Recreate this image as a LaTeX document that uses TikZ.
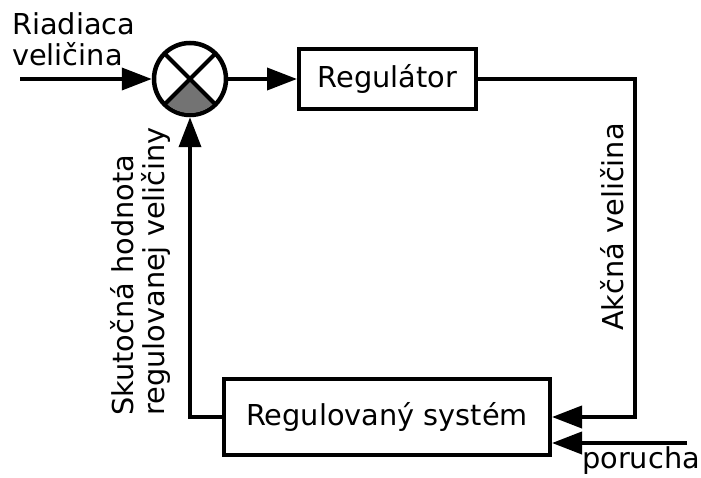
\documentclass[tikz,border=0pt]{standalone}
\usepackage{fontspec}
\setmainfont{DejaVu Sans}
\usetikzlibrary{arrows.meta}
\begin{document}
\begin{tikzpicture}[x=1pt,y=-1pt,
  every node/.style={font=\fontsize{28.8}{31}\selectfont},
  block/.style={draw,line width=4pt,inner sep=0pt},
  sumnode/.style={draw,circle,line width=4.5pt,minimum size=72pt,inner sep=0pt},
  lbl/.style={inner sep=0pt},
  arr/.style={line width=3.8pt,-{Triangle[length=30pt,width=22pt]}},
  cross/.style={line width=4pt}]
\useasboundingbox (0,0) rectangle (701,478);

% blocks
\node[sumnode] (sum) at (190,79) {};
\node[block,minimum width=177pt,minimum height=60pt] (reg) at (387.5,79) {Regulátor};
\node[block,minimum width=326pt,minimum height=76pt] (sys) at (387,417) {Regulovaný systém};

% comparator: shaded lower sector and the cross
\fill[black!55] (sum.center) -- ++(225:34pt) arc[start angle=225,end angle=315,radius=34pt] -- cycle;
\draw[cross] (sum.center) -- ++(45:36pt);
\draw[cross] (sum.center) -- ++(135:36pt);
\draw[cross] (sum.center) -- ++(225:36pt);
\draw[cross] (sum.center) -- ++(315:36pt);

% free ends of the connectors
\coordinate (inp) at (20,79);
\coordinate (turn) at (635,417);
\coordinate (dist) at (687,443);

% connectors
\draw[arr] (inp) -- (sum.west);
\draw[arr] (sum.east) -- (reg.west);
\draw[arr] (reg.east) -| (turn) -- (sys.east);
\draw[arr] (dist) -- (dist -| sys.east);
\draw[arr] (sys.west) -| (sum.south);

% labels
\node[lbl,align=left,anchor=north west] (lin) at (12,12) {Riadiaca\\veličina};
\node[lbl,rotate=90] (lact) at (612,227) {Akčná veličina};
\node[lbl,rotate=90,align=left,anchor=west] (lfb) at (140,416) {Skutočná hodnota\\regulovanej veličiny};
\node[lbl,anchor=base west] (ldist) at (582,468) {porucha};
\end{tikzpicture}
\end{document}
